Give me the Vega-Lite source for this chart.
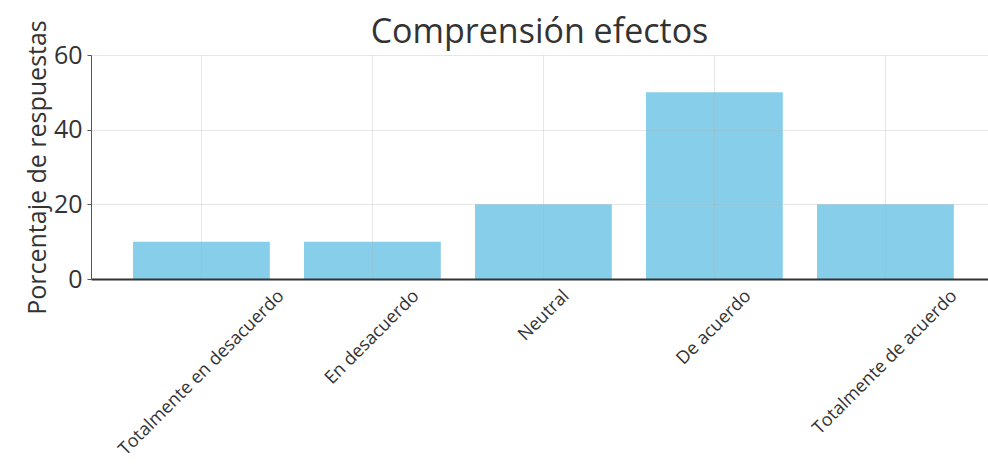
{
  "$schema": "https://vega.github.io/schema/vega-lite/v6.json",
  "width": 897,
  "height": 224,
  "autosize": {"type": "none"},
  "padding": {"left": 91, "top": 55, "right": 0, "bottom": 186},
  "background": "white",
  "title": {"text": "Comprensión efectos", "font": "Open Sans", "fontSize": 34, "fontWeight": "normal", "color": "#333333", "offset": -30, "anchor": "middle"},
  "data": {"values": [
    {"respuesta": "Totalmente en desacuerdo", "porcentaje": 10},
    {"respuesta": "En desacuerdo", "porcentaje": 10},
    {"respuesta": "Neutral", "porcentaje": 20},
    {"respuesta": "De acuerdo", "porcentaje": 50},
    {"respuesta": "Totalmente de acuerdo", "porcentaje": 20}
  ]},
  "mark": {"type": "bar", "color": "#87CEEB"},
  "encoding": {
    "x": {
      "field": "respuesta", "type": "nominal", "sort": null,
      "scale": {"paddingInner": 0.2, "paddingOuter": 0.2228, "align": 0.551},
      "axis": {
        "title": null,
        "zindex": 1,
        "labelAngle": -45,
        "labelAlign": "right",
        "labelBaseline": "middle",
        "labelFont": "Open Sans",
        "labelFontSize": 18,
        "labelColor": "#333333",
        "labelLimit": 500,
        "labelOverlap": false,
        "labelOffset": {"condition": [
          {"test": "datum.value === 'Totalmente en desacuerdo'", "value": 80},
          {"test": "datum.value === 'En desacuerdo'", "value": 44},
          {"test": "datum.value === 'Neutral'", "value": 23},
          {"test": "datum.value === 'De acuerdo'", "value": 34}
        ], "value": 69},
        "labelPadding": 14,
        "domainColor": "#333333",
        "domainWidth": 2,
        "grid": true,
        "gridColor": "#b0b0b0",
        "gridOpacity": 0.3,
        "bandPosition": 0.5,
        "ticks": false
      }
    },
    "y": {
      "field": "porcentaje", "type": "quantitative",
      "scale": {"domain": [0, 60]},
      "axis": {
        "zindex": 1,
        "values": [0, 20, 40, 60],
        "title": "Porcentaje de respuestas",
        "titleFont": "Open Sans",
        "titleFontSize": 25,
        "titleFontWeight": "normal",
        "titleColor": "#333333",
        "titlePadding": 3,
        "labelFont": "Open Sans",
        "labelFontSize": 25,
        "labelColor": "#333333",
        "labelPadding": 5,
        "tickSize": 4,
        "tickColor": "#555555",
        "domainColor": "#555555",
        "grid": true,
        "gridColor": "#b0b0b0",
        "gridOpacity": 0.3
      }
    }
  },
  "config": {"view": {"stroke": null}}
}
